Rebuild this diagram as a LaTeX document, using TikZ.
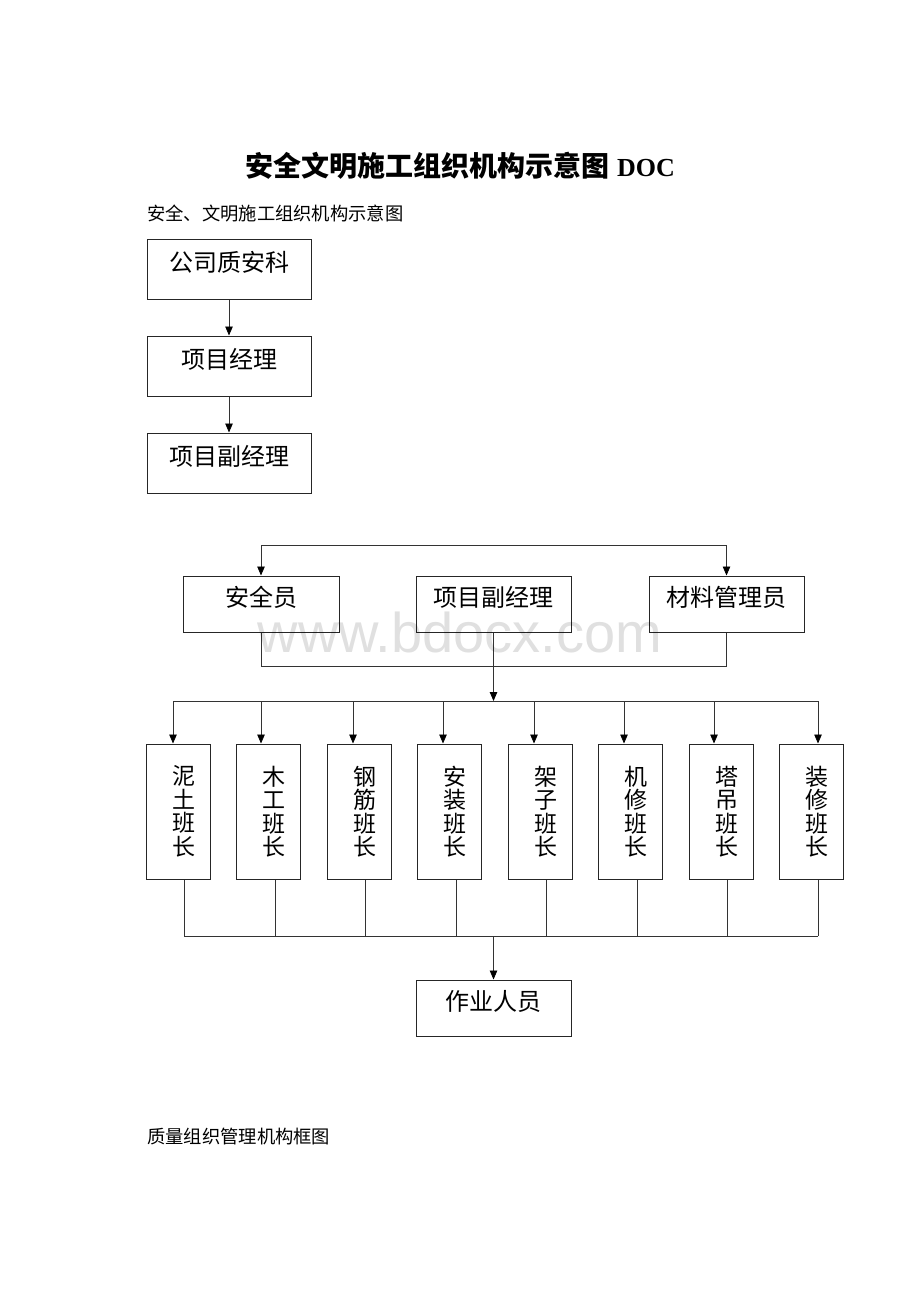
\documentclass[tikz,border=0pt]{standalone}
\usepackage{fontspec}
\setmainfont{Liberation Serif}
\newfontfamily\cjk{Noto Sans CJK SC}
\newfontfamily\wmfont{Liberation Sans}
\usetikzlibrary{arrows.meta}
\newcommand\liftup[1]{\raisebox{-2pt}[0pt][0pt]{#1}}
\begin{document}
\begin{tikzpicture}[x=1pt,y=-1pt,
  box/.style={draw=black!85,line width=1pt,rectangle,inner sep=0pt,
    font=\cjk\fontsize{24}{24}\selectfont},
  hbox/.style={box,minimum width=155pt,minimum height=56pt},
  vbox/.style={box,minimum width=64pt,minimum height=135pt},
  vtext/.style={inner sep=0pt,align=center,font=\cjk\fontsize{23}{23.5}\selectfont},
  ln/.style={draw=black!80,line width=0.8pt},
  arr/.style={ln,-{Triangle[length=9pt,width=7.5pt,color=black,fill=black]}},
  plain/.style={inner sep=0pt,anchor=west,font=\cjk\fontsize{18.3}{18.3}\selectfont}]
\useasboundingbox (0,0) rectangle (920,1302);
\fill[white] (0,0) rectangle (920,1302);

% headings
\node[inner sep=0pt,font=\cjk\bfseries\fontsize{28}{28}\selectfont] (title) at (460,166)
  {安全文明施工组织机构示意图\hspace{8pt}{\rmfamily\bfseries\fontsize{26}{26}\selectfont DOC}};
\node[plain] (sub) at (147,214) {安全、文明施工组织机构示意图};
\node[plain] (sub2) at (147,1137) {质量组织管理机构框图};

% top chain
\node[box,minimum width=164pt,minimum height=60pt] (a1) at (229,269) {\liftup{公司质安科}};
\node[box,minimum width=164pt,minimum height=60pt] (a2) at (229,366) {\liftup{项目经理}};
\node[box,minimum width=164pt,minimum height=60pt] (a3) at (229,463) {\liftup{项目副经理}};
\draw[arr] (a1.south) -- (a2.north);
\draw[arr] (a2.south) -- (a3.north);

% second level
\node[hbox,minimum width=156pt] (m1) at (261,604) {\liftup{安全员}};
\node[hbox] (m2) at (493.5,604) {\liftup{项目副经理}};
\node[hbox] (m3) at (726.5,604) {\liftup{材料管理员}};
\coordinate (topL) at (261,545);
\coordinate (topR) at (726.5,545);
\draw[ln] (topL) -- (topR);
\draw[arr] (topL) -- (m1.north);
\draw[arr] (topR) -- (m3.north);
\coordinate (botL) at (261,666);
\coordinate (botR) at (726.5,666);
\draw[ln] (m1.south) -- (botL) -- (botR) -- (m3.south);

% third level
\foreach \i/\cx/\txt in {1/178.5/泥\\土\\班\\长, 2/268/木\\工\\班\\长, 3/359/钢\\筋\\班\\长,
  4/449/安\\装\\班\\长, 5/540/架\\子\\班\\长, 6/630/机\\修\\班\\长,
  7/721/塔\\吊\\班\\长, 8/811/装\\修\\班\\长}{
  \node[vbox] (v\i) at (\cx,811.5) {};
  \node[vtext] (t\i) at ([xshift=5.5pt]v\i.center) {\txt};
}
\foreach \i/\jx in {1/173,2/261,3/353,4/443,5/534,6/624,7/714,8/818}{
  \coordinate (j\i) at (\jx,701);
}
\draw[ln] (j1) -- (j8);
\foreach \i in {1,...,8}{ \draw[arr] (j\i) -- (j\i |- v\i.north); }
\draw[arr] (m2.south) -- (m2.south |- j1);

% bottom
\foreach \i/\kx in {1/184,2/275,3/365,4/456,5/546,6/637,7/727,8/818}{
  \coordinate (k\i) at (\kx,936);
}
\draw[ln] (k1) -- (k8);
\foreach \i in {1,...,8}{ \draw[ln] (k\i |- v\i.south) -- (k\i); }
\node[hbox] (w) at (493.5,1008) {\liftup{作业人员}};
\coordinate (kc) at (493.5,936);
\draw[arr] (kc) -- (w.north);

% watermark
\node[inner sep=0pt,anchor=base,font=\wmfont\fontsize{56}{56}\selectfont,
  text=black,text opacity=0.12] (wm) at (460,652) {www.bdocx.com};
\end{tikzpicture}
\end{document}
